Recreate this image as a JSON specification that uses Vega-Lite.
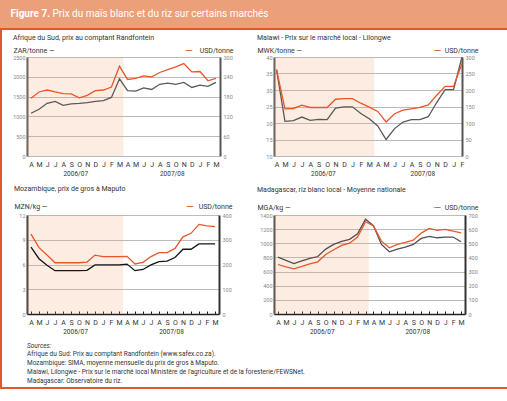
{
  "$schema": "https://vega.github.io/schema/vega-lite/v6.json",
  "background": "white",
  "padding": 0,
  "spacing": 0,
  "config": {
    "font": "Roboto",
    "view": {"stroke": null},
    "title": {"fontSize": 7, "fontWeight": "normal", "color": "#333", "anchor": "start", "frame": "group"},
    "axis": {"titleFontWeight": "normal", "titleFontSize": 7, "titleColor": "#333", "labelColor": "#888", "labelFontSize": 5.5, "ticks": false, "gridColor": "#aaa", "gridWidth": 0.8, "domainColor": "#555", "domainWidth": 2}
  },
  "vconcat": [
    {
      "width": 507, "height": 28, "view": {"fill": "#EBA07A", "stroke": null},
      "data": {"values": []}, "mark": "point",
      "encoding": {
        "x": {"datum": 0, "type": "quantitative", "scale": {"domain": [0, 1]},
              "axis": {"orient": "top", "domain": false, "labels": false, "ticks": false, "grid": false, "title": "Figure 7.", "titleFontWeight": "bold", "titleFontSize": 10, "titleColor": "white", "titleX": 10, "titleY": 13, "titleAlign": "left", "titleBaseline": "middle", "titleAngle": 0}},
        "y": {"datum": 0, "type": "quantitative", "scale": {"domain": [0, 1]},
              "axis": {"orient": "left", "domain": false, "labels": false, "ticks": false, "grid": false, "title": "Prix du maïs blanc et du riz sur certains marchés", "titleFontWeight": "normal", "titleFontSize": 10, "titleColor": "white", "titleX": 52, "titleY": 13, "titleAlign": "left", "titleBaseline": "middle", "titleAngle": 0}}
      }
    },
    {"width": 507, "height": 2, "view": {"fill": "#E05A28", "stroke": null}, "data": {"values": []}, "mark": "point", "encoding": {}},
    {
      "spacing": 10,
      "hconcat": [
        {"width": 2, "height": 357, "view": {"fill": "#E05A28", "stroke": null}, "data": {"values": []}, "mark": "point", "encoding": {}},
        {
          "spacing": 3,
          "vconcat": [
            {"width": 1, "height": 1, "data": {"values": []}, "mark": "point", "encoding": {}},
            {
              "spacing": 8,
              "vconcat": [
                {
                  "spacing": 24,
                  "hconcat": [
                    {
                      "width": 193, "height": 99,
                      "title": {"text": "Afrique du Sud,  prix au comptant Randfontein", "dx": -14, "offset": 4},
                      "layer": [
                        {
                          "data": {"values": [{"a": -0.5, "b": 11.5}]},
                          "mark": {"type": "rect", "color": "#F0A070", "opacity": 0.2},
                          "encoding": {
                            "x": {"field": "a", "type": "quantitative", "scale": {"domain": [-0.5, 23.5], "nice": false, "zero": false},
                                  "axis": {"orient": "bottom", "values": [5.5, 17.5], "labelExpr": "datum.value < 12 ? '2006/07' : '2007/08'", "domain": false, "ticks": false, "grid": false, "labelPadding": 14, "labelFontSize": 6.5, "labelColor": "#333", "labelFlush": false, "labelOverlap": false, "title": null}},
                            "x2": {"field": "b"}
                          }
                        },
                        {
                          "data": {"values": [{"t":0,"v":1080},{"t":1,"v":1180},{"t":2,"v":1330},{"t":3,"v":1380},{"t":4,"v":1280},{"t":5,"v":1315},{"t":6,"v":1330},{"t":7,"v":1350},{"t":8,"v":1380},{"t":9,"v":1400},{"t":10,"v":1480},{"t":11,"v":1950},{"t":12,"v":1650},{"t":13,"v":1640},{"t":14,"v":1720},{"t":15,"v":1680},{"t":16,"v":1810},{"t":17,"v":1840},{"t":18,"v":1810},{"t":19,"v":1860},{"t":20,"v":1730},{"t":21,"v":1790},{"t":22,"v":1760},{"t":23,"v":1860}]},
                          "mark": {"type": "line", "color": "#5A5A5A", "strokeWidth": 1.3},
                          "encoding": {
                            "x": {"field": "t", "type": "quantitative", "scale": {"domain": [-0.5, 23.5], "nice": false, "zero": false},
                                  "axis": {"orient": "bottom", "values": [0,1,2,3,4,5,6,7,8,9,10,11,12,13,14,15,16,17,18,19,20,21,22,23], "labelExpr": "['A','M','J','J','A','S','O','N','D','J','F','M'][datum.value % 12]", "domain": false, "ticks": false, "grid": false, "labelPadding": 4, "labelFontSize": 7, "labelColor": "#333", "labelFlush": false, "labelOverlap": false,
                                           "title": "—", "titleColor": "#E8572A", "titleFontSize": 10, "titleX": 161.5, "titleY": -106, "titleAlign": "center", "titleBaseline": "middle"}},
                            "y": {"field": "v", "type": "quantitative", "scale": {"domain": [0, 2500], "nice": false, "zero": false},
                                  "axis": {"orient": "left", "values": [0,500,1000,1500,2000,2500], "format": "d", "grid": true, "labelPadding": 2, "title": "ZAR/tonne —", "titleAngle": 0, "titleAlign": "left", "titleBaseline": "middle", "titleX": -14, "titleY": -7}}
                          }
                        },
                        {
                          "data": {"values": [{"t":0,"v":175},{"t":1,"v":194},{"t":2,"v":200},{"t":3,"v":194},{"t":4,"v":189},{"t":5,"v":188},{"t":6,"v":176},{"t":7,"v":184},{"t":8,"v":198},{"t":9,"v":200},{"t":10,"v":209},{"t":11,"v":272},{"t":12,"v":232},{"t":13,"v":235},{"t":14,"v":243},{"t":15,"v":240},{"t":16,"v":253},{"t":17,"v":262},{"t":18,"v":270},{"t":19,"v":280},{"t":20,"v":255},{"t":21,"v":256},{"t":22,"v":228},{"t":23,"v":235}]},
                          "mark": {"type": "line", "color": "#E8572A", "strokeWidth": 1.3},
                          "encoding": {
                            "x": {"field": "t", "type": "quantitative", "axis": null},
                            "y": {"field": "v", "type": "quantitative", "scale": {"domain": [0, 300], "nice": false, "zero": false},
                                  "axis": {"orient": "right", "values": [0,60,120,180,240,300], "grid": false, "labelPadding": 3, "title": "USD/tonne", "titleAngle": 0, "titleAlign": "right", "titleBaseline": "middle", "titleX": 13, "titleY": -7}}
                          }
                        }
                      ],
                      "resolve": {"scale": {"y": "independent"}, "axis": {"x": "independent"}}
                    },
                    {
                      "width": 188, "height": 99,
                      "title": {"text": "Malawi -  Prix sur le marché local - Lilongwe", "dx": -17, "offset": 4},
                      "layer": [
                        {
                          "data": {"values": [{"a": -0.3, "b": 11.6}]},
                          "mark": {"type": "rect", "color": "#F0A070", "opacity": 0.2},
                          "encoding": {
                            "x": {"field": "a", "type": "quantitative", "scale": {"domain": [-0.3, 22], "nice": false, "zero": false},
                                  "axis": {"orient": "bottom", "values": [5.5, 17.3], "labelExpr": "datum.value < 12 ? '2006/07' : '2007/08'", "domain": false, "ticks": false, "grid": false, "labelPadding": 14, "labelFontSize": 6.5, "labelColor": "#333", "labelFlush": false, "labelOverlap": false, "title": null}},
                            "x2": {"field": "b"}
                          }
                        },
                        {
                          "data": {"values": [{"t":0,"v":36.2},{"t":1,"v":20.5},{"t":2,"v":20.7},{"t":3,"v":21.8},{"t":4,"v":20.8},{"t":5,"v":21.1},{"t":6,"v":21.0},{"t":7,"v":24.5},{"t":8,"v":24.9},{"t":9,"v":24.9},{"t":10,"v":22.9},{"t":11,"v":21.3},{"t":12,"v":19.1},{"t":13,"v":15.0},{"t":14,"v":18.3},{"t":15,"v":20.3},{"t":16,"v":21.0},{"t":17,"v":21.0},{"t":18,"v":21.9},{"t":19,"v":26.2},{"t":20,"v":30.1},{"t":21,"v":30.1},{"t":22,"v":40}]},
                          "mark": {"type": "line", "color": "#5A5A5A", "strokeWidth": 1.3},
                          "encoding": {
                            "x": {"field": "t", "type": "quantitative", "scale": {"domain": [-0.3, 22], "nice": false, "zero": false},
                                  "axis": {"orient": "bottom", "values": [0,1,2,3,4,5,6,7,8,9,10,11,12,13,14,15,16,17,18,19,20,21,22], "labelExpr": "['A','M','J','J','A','S','O','N','D','J','F','M'][datum.value % 12]", "domain": false, "ticks": false, "grid": false, "labelPadding": 4, "labelFontSize": 7, "labelColor": "#333", "labelFlush": false, "labelOverlap": false,
                                           "title": "—", "titleColor": "#E8572A", "titleFontSize": 10, "titleX": 163, "titleY": -106, "titleAlign": "center", "titleBaseline": "middle"}},
                            "y": {"field": "v", "type": "quantitative", "scale": {"domain": [10, 40], "nice": false, "zero": false},
                                  "axis": {"orient": "left", "values": [10,15,20,25,30,35,40], "grid": true, "labelPadding": 2, "title": "MWK/tonne —", "titleAngle": 0, "titleAlign": "left", "titleBaseline": "middle", "titleX": -17, "titleY": -7}}
                          }
                        },
                        {
                          "data": {"values": [{"t":0,"v":262},{"t":1,"v":143},{"t":2,"v":144},{"t":3,"v":154},{"t":4,"v":147},{"t":5,"v":147},{"t":6,"v":147},{"t":7,"v":172},{"t":8,"v":174},{"t":9,"v":174},{"t":10,"v":160},{"t":11,"v":148},{"t":12,"v":135},{"t":13,"v":103},{"t":14,"v":128},{"t":15,"v":139},{"t":16,"v":143},{"t":17,"v":147},{"t":18,"v":155},{"t":19,"v":184},{"t":20,"v":211},{"t":21,"v":211},{"t":22,"v":280}]},
                          "mark": {"type": "line", "color": "#E8572A", "strokeWidth": 1.3},
                          "encoding": {
                            "x": {"field": "t", "type": "quantitative", "axis": null},
                            "y": {"field": "v", "type": "quantitative", "scale": {"domain": [0, 300], "nice": false, "zero": false},
                                  "axis": {"orient": "right", "values": [0,50,100,150,200,250,300], "grid": false, "labelPadding": 3, "title": "USD/tonne", "titleAngle": 0, "titleAlign": "right", "titleBaseline": "middle", "titleX": 16, "titleY": -7}}
                          }
                        }
                      ],
                      "resolve": {"scale": {"y": "independent"}, "axis": {"x": "independent"}}
                    }
                  ]
                },
                {
                  "spacing": 25,
                  "hconcat": [
                    {
                      "width": 192, "height": 99,
                      "title": {"text": "Mozambique, prix de gros à Maputo", "dx": -13, "offset": 9},
                      "layer": [
                        {
                          "data": {"values": [{"a": -0.5, "b": 11.5}]},
                          "mark": {"type": "rect", "color": "#F0A070", "opacity": 0.2},
                          "encoding": {
                            "x": {"field": "a", "type": "quantitative", "scale": {"domain": [-0.5, 23.5], "nice": false, "zero": false},
                                  "axis": {"orient": "bottom", "values": [5.5, 17.5], "labelExpr": "datum.value < 12 ? '2006/07' : '2007/08'", "domain": false, "ticks": false, "grid": false, "labelPadding": 14, "labelFontSize": 6.5, "labelColor": "#333", "labelFlush": false, "labelOverlap": false, "title": null}},
                            "x2": {"field": "b"}
                          }
                        },
                        {
                          "data": {"values": [{"t":0,"v":8.1},{"t":1,"v":6.7},{"t":2,"v":5.9},{"t":3,"v":5.25},{"t":4,"v":5.25},{"t":5,"v":5.25},{"t":6,"v":5.25},{"t":7,"v":5.3},{"t":8,"v":5.95},{"t":9,"v":5.95},{"t":10,"v":5.95},{"t":11,"v":5.95},{"t":12,"v":6.05},{"t":13,"v":5.25},{"t":14,"v":5.4},{"t":15,"v":5.95},{"t":16,"v":6.35},{"t":17,"v":6.4},{"t":18,"v":6.85},{"t":19,"v":7.85},{"t":20,"v":7.85},{"t":21,"v":8.5},{"t":22,"v":8.5},{"t":23,"v":8.5}]},
                          "mark": {"type": "line", "color": "#151515", "strokeWidth": 1.3},
                          "encoding": {
                            "x": {"field": "t", "type": "quantitative", "scale": {"domain": [-0.5, 23.5], "nice": false, "zero": false},
                                  "axis": {"orient": "bottom", "values": [0,1,2,3,4,5,6,7,8,9,10,11,12,13,14,15,16,17,18,19,20,21,22,23], "labelExpr": "['A','M','J','J','A','S','O','N','D','J','F','M'][datum.value % 12]", "domain": true, "domainColor": "#222", "domainWidth": 1.5, "ticks": true, "tickSize": -3, "tickColor": "#222", "tickWidth": 1, "grid": false, "labelPadding": 7, "labelFontSize": 7, "labelColor": "#333", "labelFlush": false, "labelOverlap": false,
                                           "title": "—", "titleColor": "#E8572A", "titleFontSize": 10, "titleX": 162.5, "titleY": -108, "titleAlign": "center", "titleBaseline": "middle"}},
                            "y": {"field": "v", "type": "quantitative", "scale": {"domain": [0, 12], "nice": false, "zero": false},
                                  "axis": {"orient": "left", "values": [0,3,6,9,12], "grid": true, "domainColor": "#333", "labelPadding": 2, "title": "MZN/kg —", "titleAngle": 0, "titleAlign": "left", "titleBaseline": "middle", "titleX": -13, "titleY": -9}}
                          }
                        },
                        {
                          "data": {"values": [{"t":0,"v":323},{"t":1,"v":268},{"t":2,"v":238},{"t":3,"v":207},{"t":4,"v":207},{"t":5,"v":207},{"t":6,"v":207},{"t":7,"v":210},{"t":8,"v":238},{"t":9,"v":232},{"t":10,"v":232},{"t":11,"v":232},{"t":12,"v":233},{"t":13,"v":202},{"t":14,"v":209},{"t":15,"v":232},{"t":16,"v":248},{"t":17,"v":248},{"t":18,"v":265},{"t":19,"v":312},{"t":20,"v":326},{"t":21,"v":362},{"t":22,"v":356},{"t":23,"v":353}]},
                          "mark": {"type": "line", "color": "#E8572A", "strokeWidth": 1.3},
                          "encoding": {
                            "x": {"field": "t", "type": "quantitative", "axis": null},
                            "y": {"field": "v", "type": "quantitative", "scale": {"domain": [0, 400], "nice": false, "zero": false},
                                  "axis": {"orient": "right", "values": [0,100,200,300,400], "grid": false, "domainColor": "#333", "labelPadding": 3, "title": "USD/tonne", "titleAngle": 0, "titleAlign": "right", "titleBaseline": "middle", "titleX": 13, "titleY": -9}}
                          }
                        }
                      ],
                      "resolve": {"scale": {"y": "independent"}, "axis": {"x": "independent"}}
                    },
                    {
                      "width": 191, "height": 99,
                      "title": {"text": "Madagascar, riz blanc local - Moyenne nationale", "dx": -17, "offset": 9},
                      "layer": [
                        {
                          "data": {"values": [{"a": -0.5, "b": 11.4}]},
                          "mark": {"type": "rect", "color": "#F0A070", "opacity": 0.2},
                          "encoding": {
                            "x": {"field": "a", "type": "quantitative", "scale": {"domain": [-0.5, 23.5], "nice": false, "zero": false},
                                  "axis": {"orient": "bottom", "values": [5.5, 17.5], "labelExpr": "datum.value < 12 ? '2006/07' : '2007/08'", "domain": false, "ticks": false, "grid": false, "labelPadding": 14, "labelFontSize": 6.5, "labelColor": "#333", "labelFlush": false, "labelOverlap": false, "title": null}},
                            "x2": {"field": "b"}
                          }
                        },
                        {
                          "data": {"values": [{"t":0,"v":804},{"t":1,"v":757},{"t":2,"v":714},{"t":3,"v":752},{"t":4,"v":785},{"t":5,"v":813},{"t":6,"v":918},{"t":7,"v":984},{"t":8,"v":1026},{"t":9,"v":1055},{"t":10,"v":1135},{"t":11,"v":1339},{"t":12,"v":1249},{"t":13,"v":984},{"t":14,"v":880},{"t":15,"v":918},{"t":16,"v":946},{"t":17,"v":984},{"t":18,"v":1069},{"t":19,"v":1097},{"t":20,"v":1078},{"t":21,"v":1088},{"t":22,"v":1088},{"t":23,"v":1022}]},
                          "mark": {"type": "line", "color": "#505050", "strokeWidth": 1.3},
                          "encoding": {
                            "x": {"field": "t", "type": "quantitative", "scale": {"domain": [-0.5, 23.5], "nice": false, "zero": false},
                                  "axis": {"orient": "bottom", "values": [0,1,2,3,4,5,6,7,8,9,10,11,12,13,14,15,16,17,18,19,20,21,22,23], "labelExpr": "['A','M','J','J','A','S','O','N','D','J','F','M'][datum.value % 12]", "domain": true, "domainColor": "#222", "domainWidth": 1.5, "ticks": true, "tickSize": -3, "tickColor": "#222", "tickWidth": 1, "grid": false, "labelPadding": 7, "labelFontSize": 7, "labelColor": "#333", "labelFlush": false, "labelOverlap": false,
                                           "title": "—", "titleColor": "#E8572A", "titleFontSize": 10, "titleX": 163, "titleY": -107, "titleAlign": "center", "titleBaseline": "middle"}},
                            "y": {"field": "v", "type": "quantitative", "scale": {"domain": [0, 1400], "nice": false, "zero": false},
                                  "axis": {"orient": "left", "values": [0,200,400,600,800,1000,1200,1400], "format": "d", "grid": true, "domainColor": "#444", "labelPadding": 2, "title": "MGA/kg  —", "titleAngle": 0, "titleAlign": "left", "titleBaseline": "middle", "titleX": -17, "titleY": -8}}
                          }
                        },
                        {
                          "data": {"values": [{"t":0,"v":350},{"t":1,"v":333},{"t":2,"v":319},{"t":3,"v":336},{"t":4,"v":355},{"t":5,"v":369},{"t":6,"v":421},{"t":7,"v":454},{"t":8,"v":485},{"t":9,"v":501},{"t":10,"v":544},{"t":11,"v":652},{"t":12,"v":622},{"t":13,"v":515},{"t":14,"v":468},{"t":15,"v":492},{"t":16,"v":506},{"t":17,"v":522},{"t":18,"v":572},{"t":19,"v":605},{"t":20,"v":591},{"t":21,"v":598},{"t":22,"v":586},{"t":23,"v":574}]},
                          "mark": {"type": "line", "color": "#E8572A", "strokeWidth": 1.3},
                          "encoding": {
                            "x": {"field": "t", "type": "quantitative", "axis": null},
                            "y": {"field": "v", "type": "quantitative", "scale": {"domain": [0, 700], "nice": false, "zero": false},
                                  "axis": {"orient": "right", "values": [0,100,200,300,400,500,600,700], "grid": false, "domainColor": "#333", "labelPadding": 3, "title": "USD/tonne", "titleAngle": 0, "titleAlign": "right", "titleBaseline": "middle", "titleX": 13, "titleY": -8}}
                          }
                        }
                      ],
                      "resolve": {"scale": {"y": "independent"}, "axis": {"x": "independent"}}
                    }
                  ]
                },
                {
                  "width": 481, "height": 1, "data": {"values": []}, "mark": "point", "encoding": {},
                  "title": {"text": "Sources:", "fontStyle": "italic", "fontSize": 6.5, "color": "#333", "offset": 0,
                            "subtitle": ["Afrique du Sud: Prix au comptant  Randfontein (www.safex.co.za).", "Mozambique: SIMA, moyenne mensuelle du prix de gros à Maputo.", "Malawi, Lilongwe - Prix sur le marché local Ministère de l'agriculture et de la foresterie/FEWSNet.", "Madagascar: Observatoire du riz."],
                            "subtitleFontSize": 6.5, "subtitleColor": "#333", "subtitleLineHeight": 9, "subtitlePadding": 1}
                }
              ]
            }
          ]
        },
        {"width": 4, "height": 357, "view": {"fill": "#EBA07A", "stroke": null}, "data": {"values": []}, "mark": "point", "encoding": {}}
      ]
    },
    {"width": 507, "height": 2, "view": {"fill": "#E05A28", "stroke": null}, "data": {"values": []}, "mark": "point", "encoding": {}}
  ]
}
